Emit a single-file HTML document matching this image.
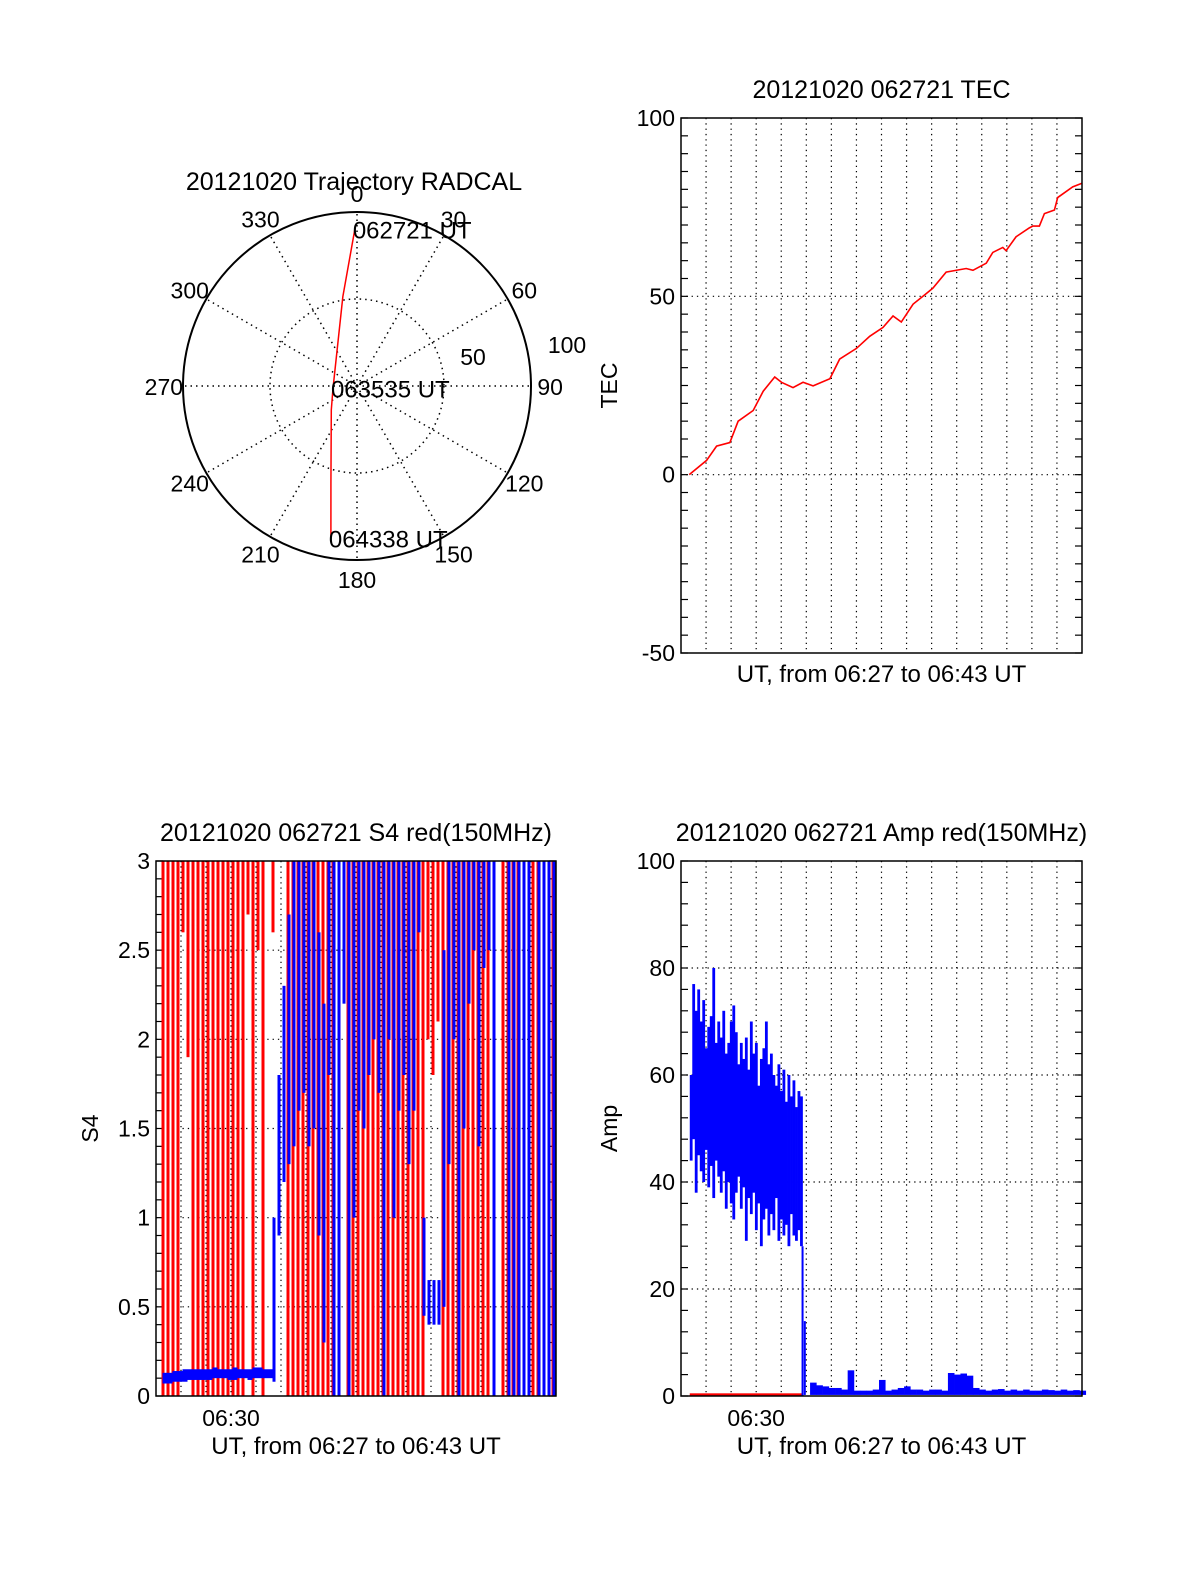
<!DOCTYPE html>
<html><head><meta charset="utf-8"><style>
html,body{margin:0;padding:0;background:#fff;}
svg{display:block;font-family:"Liberation Sans",Arial,sans-serif;}
</style></head><body>
<svg id="fig" width="1200" height="1575" viewBox="0 0 1200 1575" xmlns="http://www.w3.org/2000/svg">
<rect width="1200" height="1575" fill="#fff"/>
</svg>
<script>
// ---------- data ----------
const trajAz = [359.2, 351, 263.6, 227, 195, 189.7];
const trajR  = [90, 52, 13.9, 20.2, 57.9, 89];
const trajLabels = ["062721 UT", "063535 UT", "064338 UT"];
const polarAngles = [0,30,60,90,120,150,180,210,240,270,300,330];

const tecT = [0.33,1.02,1.42,1.95,2.28,2.88,3.28,3.74,4.01,4.47,4.87,5.27,5.94,6.33,7.0,7.53,8.06,8.46,8.79,9.26,9.79,10.05,10.58,11.38,11.65,12.18,12.44,12.84,12.97,13.37,13.9,14.04,14.3,14.5,14.9,15.03,15.63,16.0];
const tecV = [0,4,8,9,15,18,23.4,27.4,25.9,24.4,25.9,24.9,26.9,32.4,35.4,38.8,41.3,44.5,42.8,47.8,50.8,52.3,56.8,57.8,57.3,59.3,62.3,63.7,62.8,66.7,69.2,69.7,69.7,73.2,74.2,77.7,80.7,81.7];
const tecTicks = [-50,0,50,100];

// S4: 80 bins of 0.2 min
const s4RedLo = [0,0,0,0,0,2.6,1.9,0,0,0,0,0,0,0,0,0,0,0,2.7,0,2.5,0,0,2.6,0,0,0,0,0,0,0,0,0,0,0,0,0,0,0,0,0,0,0,0,0,0,0,0,0,0,0,0,0,0,2.0,1.8,2.1,0,0,0,0,0,0,0,0,0,0,0,0,0,0,0,0,0,0,0,0,0,0,0];
const s4RedHi = [0,3,3,3,3,3,3,3,3,3,3,3,3,3,3,3,3,3,3,3,3,3,0,3,0,0,3,3,3,3,3,3,3,3,3,3,0,0,3,3,3,3,3,3,3,3,3,3,3,3,3,3,3,3,3,3,3,3,3,3,3,3,3,3,3,3,3,0,0,3,3,3,3,0,0,3,3,0,0,3];
const s4BlueLo = [0,0.07,0.07,0.08,0.08,0.08,0.09,0.09,0.09,0.09,0.09,0.1,0.1,0.1,0.09,0.09,0.1,0.1,0.09,0.1,0.1,0.1,0.1,0.08,0.9,1.2,1.3,1.4,1.6,1.7,1.4,1.5,0.9,0.3,1.8,0,0,2.2,0,1.0,1.6,1.5,1.8,2.0,1.7,0,2.0,1.0,1.6,1.8,1.3,1.6,2.6,0.45,0.4,0.4,0.4,0.5,1.3,2.0,0,1.5,2.2,2.5,1.4,2.4,2.5,0,0,0,0,0,0,0,0,0,0,0,0,0];
const s4BlueHi = [0,0.13,0.13,0.14,0.14,0.15,0.15,0.15,0.15,0.15,0.15,0.16,0.15,0.15,0.15,0.16,0.15,0.15,0.15,0.16,0.16,0.15,0.15,1.0,1.8,2.3,2.7,3,3,3,3,3,2.6,2.2,3,3,3,3,3,3,3,3,3,3,3,3,3,3,3,3,3,3,3,1.0,0.65,0.65,0.65,2.5,3,3,3,3,3,3,3,3,3,3,0,0,3,3,3,3,3,0,3,3,3,3];
const s4Ticks = [0,0.5,1,1.5,2,2.5,3];
const s4TickLabels = ["0","0.5","1","1.5","2","2.5","3"];

// Amp
const ampHi = [60,77,72,76,70,74,65,69,71,80,66,70,67,72,64,66,70,73,68,62,66,63,67,61,70,64,66,58,63,65,70,62,64,60,58,62,57,61,55,60,56,59,54,57,56];
const ampLo = [44,48,38,45,42,40,46,39,43,37,44,41,38,42,35,40,36,33,38,41,35,39,29,37,34,38,31,36,28,33,35,30,34,31,37,29,33,30,32,28,34,30,29,31,28];
const ampTail = [14,2.5,2,1.8,1.5,1.5,1.2,4.8,1,1,1,1.2,3,1,1.2,1.5,1.8,1.2,1.2,1,1.2,1.2,1,4.3,4,4.2,3.8,1.5,1.2,1,1.2,1.3,1,1.2,1,1.2,1,1,1.2,1.1,1,1.2,1,1.1,1];
const ampRed = 0.5;
const ampTicks = [0,20,40,60,80,100];

// ---------- helpers ----------
const NS = "http://www.w3.org/2000/svg";
const svg = document.getElementById('fig');
function mk(tag, attrs, parent){
  const e = document.createElementNS(NS, tag);
  for (const k in attrs) e.setAttribute(k, attrs[k]);
  (parent||svg).appendChild(e); return e;
}
function txt(s, x, y, anchor, size, parent){
  const t = mk('text', {x:x, y:y, 'text-anchor':anchor||'middle', 'font-size':size||23, fill:'#000'}, parent);
  t.textContent = s; return t;
}

// ---------- polar ----------
(function(){
  const g = mk('g', {});
  
  
  const cx = 357, cy = 386, R = 174, k = R/100;
  const P = (az, r) => [cx + r*k*Math.sin(az*Math.PI/180), cy - r*k*Math.cos(az*Math.PI/180)];
  polarAngles.forEach(a => {
    const p = P(a, 100);
    const l = mk('line', {x1:cx, y1:cy, x2:p[0], y2:p[1], stroke:'#000', 'stroke-width':1.5, 'stroke-dasharray':'1.5 4'}, g);
    
    
    const q = P(a, 111);
    const t = txt(String(a), q[0], q[1]+9, 'middle', 23, g);
    
    
  });
  const inner = mk('circle', {cx:cx, cy:cy, r:R/2, fill:'none', stroke:'#000', 'stroke-width':1.5, 'stroke-dasharray':'1.5 4'}, g);
  
  
  const outer = mk('circle', {cx:cx, cy:cy, r:R, fill:'none', stroke:'#000', 'stroke-width':2}, g);
  
  
  txt('100', 567, 353, 'middle', 23, g);
  txt('50', 473, 365, 'middle', 23, g);
  const pts = trajAz.map((a,i)=>P(a, trajR[i]).join(',')).join(' ');
  const pl = mk('polyline', {points:pts, fill:'none', stroke:'#f00', 'stroke-width':1.5}, g);
  
  
  const idx = [0, 2, trajAz.length-1];
  idx.forEach((ii, j) => {
    const p = P(trajAz[ii], trajR[ii]);
    const t = txt(trajLabels[j], p[0]-2, p[1]+9, 'start', 24, g);
    
    
  });
  const ti = txt('20121020 Trajectory RADCAL', 354, 190, 'middle', 25, g);
  
  
})();

// ---------- generic axes ----------
function axes(o){
  const g = mk('g', {});
  
  
  const x0=o.x0, x1=o.x1, y0=o.y0, y1=o.y1;
  const X = t => x0 + (t/16)*(x1-x0);
  const Y = v => y1 - (v-o.ymin)/(o.ymax-o.ymin)*(y1-y0);
  for (let m=1; m<16; m++){
    const l = mk('line', {x1:X(m), y1:y0, x2:X(m), y2:y1, stroke:'#000', 'stroke-width':1.2, 'stroke-dasharray':'1.3 4'}, g);
    
    
  }
  o.ticks.forEach((v,i) => {
    if (v>o.ymin && v<o.ymax){
      const l = mk('line', {x1:x0, y1:Y(v), x2:x1, y2:Y(v), stroke:'#000', 'stroke-width':1.2, 'stroke-dasharray':'1.3 4'}, g);
      
      
    }
    const t = txt(o.labels ? o.labels[i] : String(v), x0-6, Y(v)+8, 'end', 23, g);
    
    
  });
  for (let v=o.ymin; v<=o.ymax+1e-9; v+=o.minor){
    mk('line', {x1:x0, y1:Y(v), x2:x0+7, y2:Y(v), stroke:'#000', 'stroke-width':1.2}, g);
    mk('line', {x1:x1, y1:Y(v), x2:x1-7, y2:Y(v), stroke:'#000', 'stroke-width':1.2}, g);
  }
  const ti = txt(o.title, (x0+x1)/2, y0-20, 'middle', 25, g);
  
  
  const xl = txt('UT, from 06:27 to 06:43 UT', (x0+x1)/2, o.t630 ? y1+58 : y1+29, 'middle', 24, g);
  
  
  if (o.ytitle){
    const yt = mk('text', {x:0, y:0, 'text-anchor':'middle', 'font-size':23, transform:`translate(${o.ytx},${(y0+y1)/2}) rotate(-90)`}, g);
    yt.textContent = o.ytitle;
    
    
  }
  if (o.t630){
    const t = txt('06:30', X(3), y1+30, 'middle', 23, g);
    
    
  }
  const data = mk('g', {}, g);
  
  
  const frame = mk('rect', {x:x0, y:y0, width:x1-x0, height:y1-y0, fill:'none', stroke:'#000', 'stroke-width':1.5}, g);
  
  
  return {X, Y, data};
}

// ---------- TEC ----------
(function(){
  const a = axes({name:'tec-chart', x0:681, x1:1082, y0:118, y1:653, ymin:-50, ymax:100, ticks:tecTicks, minor:5, title:'20121020 062721 TEC', ytitle:'TEC', ytx:617});
  const pts = tecT.map((t,i)=>a.X(t)+','+a.Y(tecV[i])).join(' ');
  const pl = mk('polyline', {points:pts, fill:'none', stroke:'#f00', 'stroke-width':1.6}, a.data);
  
  
})();

// ---------- S4 ----------
(function(){
  const a = axes({name:'s4-chart', x0:156, x1:556, y0:861, y1:1396, ymin:0, ymax:3, ticks:s4Ticks, labels:s4TickLabels, minor:0.1, title:'20121020 062721 S4 red(150MHz)', ytitle:'S4', ytx:98, t630:true});
  const bw = 0.2;
  s4RedHi.forEach((hi,i) => {
    if (hi<=0) return;
    const t = i*bw;
    const r = mk('rect', {x:a.X(t)+0.5, y:a.Y(hi), width:3, height:a.Y(s4RedLo[i])-a.Y(hi), fill:'#f00'}, a.data);
    
    
  });
  s4BlueHi.forEach((hi,i) => {
    if (hi<=0) return;
    const t = i*bw;
    const lo = s4BlueLo[i];
    const h = a.Y(lo)-a.Y(hi);
    const r = mk('rect', {x:a.X(t)+1.5, y:a.Y(hi), width: h<15 ? 5 : 3, height:Math.max(1.5, h), fill:'#00f'}, a.data);
    
    
  });
})();

// ---------- Amp ----------
(function(){
  const a = axes({name:'amp-chart', x0:681, x1:1082, y0:861, y1:1396, ymin:0, ymax:100, ticks:ampTicks, minor:4, title:'20121020 062721 Amp red(150MHz)', ytitle:'Amp', ytx:617, t630:true});
  const r0 = mk('rect', {x:a.X(0.35), y:a.Y(ampRed), width:a.X(4.85)-a.X(0.35), height:a.Y(0)-a.Y(ampRed), fill:'#f00'}, a.data);
  
  
  ampHi.forEach((hi,i) => {
    const t = 0.35 + i*0.1;
    const r = mk('rect', {x:a.X(t), y:a.Y(hi), width:a.X(t+0.1)-a.X(t)+0.3, height:a.Y(ampLo[i])-a.Y(hi), fill:'#00f'}, a.data);
    
    
  });
  const d = mk('line', {x1:a.X(4.85), y1:a.Y(ampLo[ampLo.length-1]), x2:a.X(4.85), y2:a.Y(0), stroke:'#00f', 'stroke-width':2}, a.data);
  
  
  ampTail.forEach((v,i) => {
    const t = 4.9 + i*0.25;
    const w = i===0 ? 2 : a.X(t+0.25)-a.X(t)+0.3;
    const r = mk('rect', {x:a.X(t), y:a.Y(v), width:w, height:a.Y(0.2)-a.Y(v), fill:'#00f'}, a.data);
    
    
  });
})();
</script>
</body></html>
